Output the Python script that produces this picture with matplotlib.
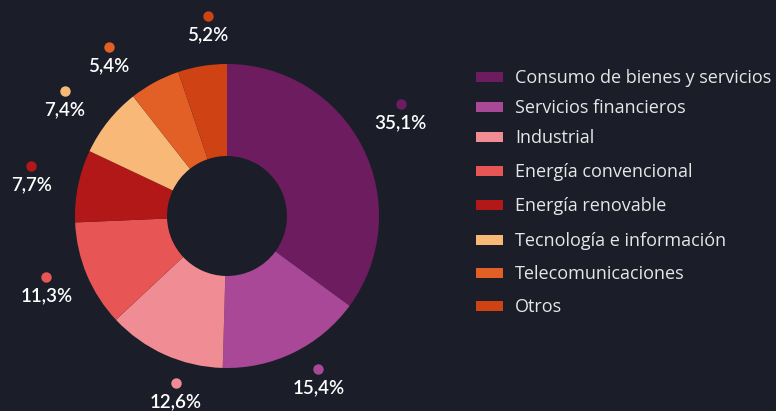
import numpy as np
import matplotlib
matplotlib.use("Agg")
import matplotlib.pyplot as plt
from matplotlib.patches import Rectangle

sectores = ["Consumo de bienes y servicios", "Servicios financieros", "Industrial",
            "Energía convencional", "Energía renovable", "Tecnología e información",
            "Telecomunicaciones", "Otros"]
valores = [35.1, 15.4, 12.6, 11.3, 7.7, 7.4, 5.4, 5.2]
etiquetas = ["35,1%", "15,4%", "12,6%", "11,3%", "7,7%", "7,4%", "5,4%", "5,2%"]
colores = ["#6d1c60", "#a84896", "#f08c94", "#e85555", "#b21818", "#f8b978",
           "#e25f25", "#cf4213"]

# label layout tweaks (degrees off the slice middle, ring radius in px)
giro = [-2.3, -2.5, -8.6, 0, -1.3, -4.3, -9, 3.4]
radio = [199, 191, 189, 196, 199, 196, 194, 186]

bg = "#1b1e29"
W, H = 776, 411

fig = plt.figure(figsize=(W / 100, H / 100), dpi=100, facecolor=bg)
ax = fig.add_axes([0, 0, 1, 1])
ax.set_facecolor(bg)

# work in pixel units, y up
cx, cy = 227, H - 216
r_out, r_in = 152, 60

wedges, _ = ax.pie(valores, colors=colores, startangle=90, counterclock=False,
                   center=(cx, cy), radius=r_out,
                   wedgeprops=dict(width=r_out - r_in, linewidth=0))
ax.set_xlim(0, W)
ax.set_ylim(0, H)
ax.set_aspect("equal")
ax.axis("off")

# labels: dot near the slice middle, value under it (label ring sits a bit higher)
total = sum(valores)
acum = 0
for v, lab, c, g, rr in zip(valores, etiquetas, colores, giro, radio):
    mid = 90 - ((acum + v / 2) / total * 360 + g)
    acum += v
    a = np.deg2rad(mid)
    px, py = cx + rr * np.cos(a), cy + 15 + rr * np.sin(a)
    ax.plot(px, py, "o", color=c, markersize=7.5, markeredgewidth=0)
    ax.text(px, py - 19, lab, color="white", fontsize=13.5, ha="center", va="center",
            family=["Lato", "DejaVu Sans"], fontweight="semibold")

# legend drawn by hand
filas = [77, 107, 137, 171, 205, 240, 273, 306]
for nombre, c, y in zip(sectores, colores, filas):
    ax.add_patch(Rectangle((476, H - y - 5), 27, 10, color=c, lw=0))
    ax.text(515, H - y - 1, nombre, color="#e6e6e6", fontsize=13, va="center", ha="left",
            family=["Open Sans", "DejaVu Sans"])

fig.savefig("out.png", dpi=100, facecolor=bg)
